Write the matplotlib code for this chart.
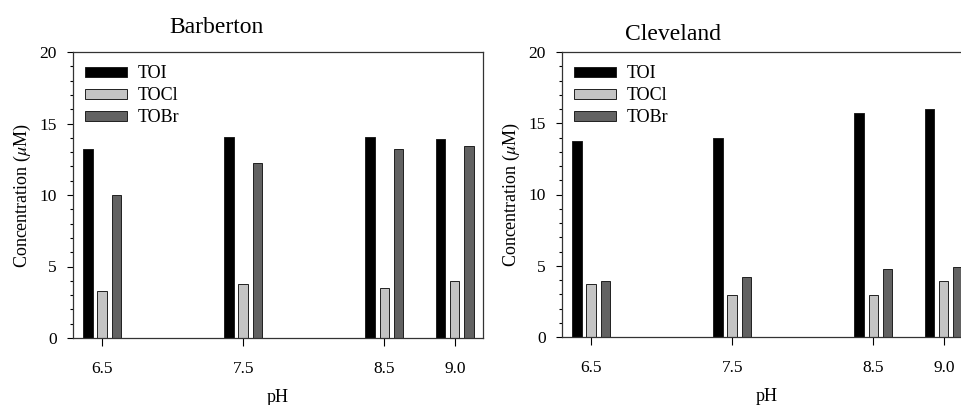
import numpy as np
import matplotlib
matplotlib.use("Agg")
from matplotlib import pyplot as plt
from matplotlib.ticker import MultipleLocator

plt.rcParams['font.family'] = ['Liberation Serif', 'DejaVu Serif']
plt.rcParams['mathtext.fontset'] = 'stix'

ph = [6.5, 7.5, 8.5, 9.0]
ph_labels = ['6.5', '7.5', '8.5', '9.0']
series = ['TOI', 'TOCl', 'TOBr']

barberton_toi = [13.2, 14.05, 14.08, 13.9]
barberton_tocl = [3.28, 3.76, 3.53, 4.0]
barberton_tobr = [10.03, 12.24, 13.22, 13.45]

cleveland_toi = [13.77, 13.96, 15.75, 15.99]
cleveland_tocl = [3.73, 2.96, 2.96, 3.92]
cleveland_tobr = [3.9, 4.22, 4.76, 4.92]

colors = ['#000000', '#c4c4c4', '#626262']


def draw_panel(ax, title, values, title_x, title_y):
    x = np.array(ph)
    for i, (name, vals) in enumerate(zip(series, values)):
        ax.bar(x + (i - 1) * 0.1, vals, width=0.066, color=colors[i],
               edgecolor='#202020', linewidth=0.7, label=name)
    ax.set_xlim(6.294, 9.2)
    ax.set_ylim(0, 20)
    ax.set_xticks(ph)
    ax.set_xticklabels(ph_labels)
    ax.yaxis.set_major_locator(MultipleLocator(5))
    ax.yaxis.set_minor_locator(MultipleLocator(1))
    ax.tick_params(axis='y', which='major', length=4.5, width=0.8, labelsize=12.5, pad=7)
    ax.tick_params(axis='y', which='minor', length=2.5, width=0.8)
    ax.tick_params(axis='x', length=5.5, width=0.8, labelsize=12.5, pad=11)
    for s in ax.spines.values():
        s.set_linewidth(0.9)
        s.set_color('#333333')
    ax.set_xlabel('pH', fontsize=13, labelpad=9)
    ax.set_ylabel(r'Concentration ($\mu$M)', fontsize=13, labelpad=5)
    ax.text(title_x, title_y, title, transform=ax.transAxes, fontsize=17,
            ha='center', va='baseline')
    ax.legend(loc='upper left', bbox_to_anchor=(0.007, 0.985), frameon=False,
              fontsize=13, handlelength=2.35, handleheight=0.45,
              handletextpad=0.55, labelspacing=0.28, borderaxespad=0.0,
              borderpad=0.5)


fig = plt.figure(figsize=(9.62, 4.05), dpi=100)
ax1 = fig.add_axes([73 / 962, 67 / 405, 410 / 962, 286 / 405])
ax2 = fig.add_axes([562 / 962, 68 / 405, 410 / 962, 285 / 405])

draw_panel(ax1, 'Barberton', [barberton_toi, barberton_tocl, barberton_tobr], 0.351, 1.066)
draw_panel(ax2, 'Cleveland', [cleveland_toi, cleveland_tocl, cleveland_tobr], 0.27, 1.042)

fig.savefig('out.png', dpi=100)
